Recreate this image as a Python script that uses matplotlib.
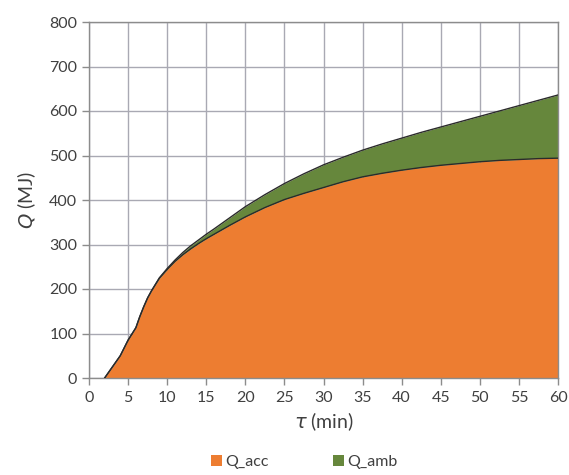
import matplotlib
matplotlib.use("Agg")
import matplotlib.pyplot as plt
import numpy as np

tau = [2, 3, 4, 5, 6, 6.5, 7, 7.5, 8, 9, 10, 11, 12, 13, 14, 15, 16, 18, 20,
       22.5, 25, 27.5, 30, 32.5, 35, 37.5, 40, 42.5, 45, 47.5, 50, 52.5, 55,
       57.5, 60]
q_acc = [0, 25, 50, 85, 113, 138, 160, 180, 196, 224, 244, 262, 277, 290, 302,
         313, 323, 343, 362, 383, 401, 415, 428, 441, 452, 460, 467, 473, 478,
         482, 486, 489, 491, 493, 494]
q_amb = [0, 0, 0, 0, 0, 0, 0, 0, 0, 1, 2, 3, 5, 7, 8, 10, 12, 17, 23, 29, 36,
         44, 51, 55, 60, 66, 72, 79, 86, 94, 102, 111, 121, 131, 142]

x_ticks = list(range(0, 61, 5))
y_ticks = list(range(0, 801, 100))

c_acc = "#ED7D31"
c_amb = "#66873C"
txt = "#404040"
plt.rcParams['font.family'] = ['Lato', 'DejaVu Sans']

fig = plt.figure(figsize=(5.69, 4.75), dpi=100)
ax = fig.add_axes([89/569, 1-378/475, (558-89)/569, (378-22)/475])

t = np.array(tau)
a = np.array(q_acc)
b = np.array(q_amb)
ax.fill_between(t, 0, a, color=c_acc, lw=0, zorder=2, label="Q_acc")
ax.fill_between(t, a, a + b, color=c_amb, lw=0, zorder=2, label="Q_amb")
ax.plot(t, a + b, color="#2b2b2b", lw=1.0, zorder=3, solid_joinstyle='round')
ax.plot(t, a, color="#2b2b2b", lw=1.0, zorder=3, solid_joinstyle='round')

ax.set_xlim(0, 60)
ax.set_ylim(0, 800)
ax.set_xticks(x_ticks)
ax.set_yticks(y_ticks)
ax.grid(True, color="#A9A9B3", lw=1.0, zorder=0)
ax.set_axisbelow(True)
for s in ax.spines.values():
    s.set_color("#8C8C8C")
    s.set_linewidth(1.0)
ax.tick_params(axis='both', colors="#8C8C8C", labelcolor=txt, labelsize=11.5,
               length=5, width=1.0, direction='out')
ax.tick_params(axis='x', pad=4)

ax.set_xlabel(r"$\tau$ (min)", fontsize=14, color=txt, labelpad=4)
ax.set_ylabel(r"$Q$ (MJ)", fontsize=14, color=txt, labelpad=8)

leg = fig.legend(loc='center', bbox_to_anchor=(304/569, 1-462/475), ncol=2,
                 frameon=False, fontsize=11.5, handlelength=0.7, handleheight=0.7,
                 handletextpad=0.2, columnspacing=4.0)
for tx in leg.get_texts():
    tx.set_color(txt)

fig.savefig("out.png", dpi=100)
